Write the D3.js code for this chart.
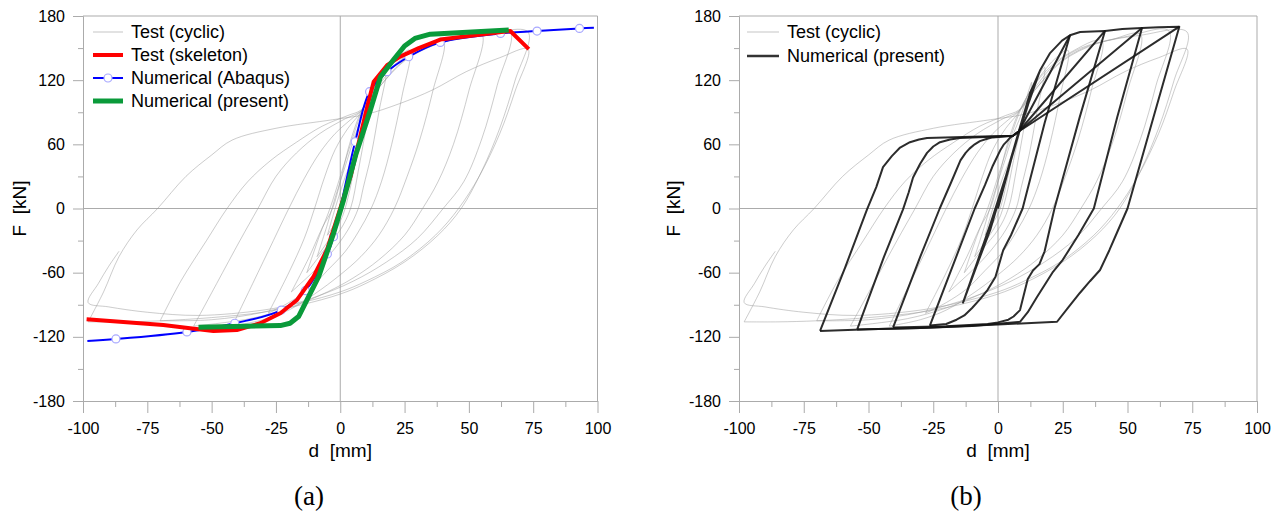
<!DOCTYPE html>
<html><head><meta charset="utf-8">
<script src="https://cdn.jsdelivr.net/npm/d3@7"></script>
<style>
body{margin:0;background:#fff}
svg{display:block}
text{font-family:"Liberation Sans",Arial,Helvetica,sans-serif;fill:#000}
</style>
</head><body>
<svg id="c" width="1279" height="513"></svg>
<script>
// ---------- axis ticks ----------
const xTicks = [-100,-75,-50,-25,0,25,50,75,100];
const xMinor = [-87.5,-62.5,-37.5,-12.5,12.5,37.5,62.5,87.5];
const yTicks = [-180,-120,-60,0,60,120,180];
const yMinor = [-150,-90,-30,30,90,150];

// ---------- Test (cyclic): hand-read loops [d mm, F kN] ----------
const testC1 = [[0,0],[2.5,25],[5,45],[2,10],[0,-5],[-5,-25]];
const testC2 = [[-5,-25],[-2,0],[2,30],[6,55],[9,80],[6,45],[3,10],[0,-12],[-9,-45]];
const testC3 = [[-9,-45],[-5,-15],[-2,10],[2,40],[6,70],[9,88],[13,118],[10,75],[7,35],[4,0],[0,-20],[-6,-38],[-13,-60]];
const testC4 = [[-13,-60],[-8,-25],[-4,0],[0,30],[4,60],[8,88],[12,108],[18,132],[15,90],[12,50],[9,20],[7,0],[3,-20],[-3,-40],[-10,-58],[-19,-78]];
const testC5 = [[-19,-78],[-12,-45],[-7,-18],[-3,0],[0,25],[3,55],[6,78],[8,90],[12,108],[17,126],[22,140],[27,148],[24,105],[20,60],[16,25],[12,0],[7,-22],[2,-40],[-5,-58],[-12,-75],[-20,-88],[-28,-98]];
const testC6 = [[-28,-98],[-20,-60],[-14,-28],[-10,0],[-6,30],[-2,55],[3,75],[8,90],[13,112],[20,132],[28,146],[40,157],[36,110],[31,65],[26,30],[21,0],[15,-25],[8,-45],[0,-62],[-10,-80],[-20,-95],[-30,-104],[-42,-110]];
const testC7 = [[-42,-110],[-34,-70],[-26,-30],[-20,0],[-14,28],[-8,52],[-2,70],[4,83],[8,91],[14,112],[22,135],[32,150],[44,158],[55,163],[50,110],[44,60],[38,25],[32,0],[25,-25],[15,-48],[5,-65],[-5,-78],[-20,-93],[-35,-103],[-57,-110]];
const testC8 = [[-57,-110],[-48,-70],[-39,-30],[-32,0],[-25,30],[-17,52],[-8,70],[2,84],[8,91],[15,113],[24,137],[35,152],[50,161],[66,166],[61,115],[55,65],[48,25],[40,0],[30,-28],[18,-50],[5,-68],[-10,-83],[-30,-97],[-50,-104],[-70,-105]];
const testC9 = [[-70,-105],[-62,-68],[-52,-30],[-44,0],[-36,25],[-27,45],[-17,62],[-7,77],[3,87],[8,92],[15,113],[25,138],[38,154],[55,162],[73,165],[68,120],[62,75],[55,35],[47,0],[38,-25],[25,-50],[10,-70],[0,-80],[-15,-90],[-30,-97],[-50,-102],[-70,-105],[-85,-106],[-98,-106]];
const testC10 = [[-98,-106],[-92,-78],[-86,-45],[-79,-20],[-71,0],[-60,30],[-50,50],[-42,64],[-25,75],[-3,83],[10,88],[23,98],[36,111],[49,128],[62,141],[73,149],[68,110],[62,70],[54,30],[46,0],[37,-25],[24,-50],[10,-68],[0,-78],[-15,-88],[-30,-95],[-55,-100],[-75,-97],[-90,-92],[-98,-88],[-94,-70],[-90,-54],[-86,-40]];
const testCycles = [testC1,testC2,testC3,testC4,testC5,testC6,testC7,testC8,testC9,testC10];

// ---------- skeleton curves (panel a) ----------
const testSkeleton = [[-98.6,-103.6],[-68.8,-108.9],[-58.4,-112],[-49.3,-114.5],[-40.2,-113.6],[-31.1,-107.3],[-23.3,-98],[-16.8,-85.5],[-10.4,-63.7],[-5.2,-38.8],[-0.6,-4.5],[4,30],[8,70],[11,100],[13,118.5],[18.2,134],[23.3,142],[30.5,150],[38.9,158],[66.1,166],[73.3,149]];
const abaqusSkeleton = [[-98.3,-123.8],[-87.2,-122],[-59.6,-115.4],[-41,-107.3],[-22.9,-95],[-13.6,-76.8],[-5,-42.5],[-2.6,-26.3],[5.8,62.4],[11.4,109.2],[18.2,127.9],[26.6,141.9],[38.9,155.3],[62.3,163.7],[76.5,165.9],[93,168.4],[98.6,169]];
const presentSkeleton = [[-55.1,-111],[-23.3,-109.5],[-19.5,-107.3],[-16.2,-101],[-8.4,-63.7],[-2.6,-23.2],[1.3,8],[6,50],[11.7,92],[15.6,123],[20.7,139],[25,152],[29,159],[35,163],[65.5,166.8]];

// ---------- Numerical (present) cyclic (panel b) ----------
const presC0 = [[0,0],[5,45],[8,72],[12.4,108],[8,70],[3,30],[-3,-20],[-8,-52],[-13.5,-88],[-8,-50],[-3,-15],[1,15],[5,45],[8,72],[12.4,108],[16.2,129],[12,100],[8,70],[2,20],[-4,-25],[-9,-58],[-13.5,-88],[-8,-52],[-2,-12],[3,30],[8,72],[12.4,108],[16.2,129],[20,145],[24.7,157],[27.8,162]];
const presC1 = [[27.8,162],[18,80],[9.5,0],[5,-25],[2,-39],[-1,-64],[-4,-76],[-7,-85],[-10,-93],[-13,-100],[-16,-104],[-20,-108],[-26.3,-109.5]];
const presC2 = [[-26.3,-109.5],[-15,-38],[-9,0],[-5,22],[-2,40],[1,55],[2.3,60],[3.5,63],[4.6,66],[5.8,68],[8,72],[27.8,162],[31.7,165],[41.3,166],[31.5,85],[21.8,0],[18,-40],[16,-52],[13.5,-58],[11.5,-66],[8.5,-95],[6,-101],[4,-104],[0,-106.5],[-4,-108],[-20,-110],[-40.5,-111.2]];
const presC3 = [[-40.5,-111.2],[-30,-45],[-22.5,0],[-18,25],[-14.5,45],[-12.5,52],[-11,56],[-9,60],[-7,63],[-4.5,65],[-2,66.5],[5.8,68],[8,72],[41.3,166],[48,167.8],[55.6,168.7],[46,85],[37,0],[31,-25],[25,-48],[21,-60],[15,-83],[11.5,-97],[8.5,-106],[-10,-109.8],[-30,-111.8],[-54.4,-113.2]];
const presC4 = [[-54.4,-113.2],[-44,-45],[-36.7,-1],[-34.5,15],[-32.8,29],[-30,42],[-27.4,52],[-25,58],[-22.4,62],[-18.5,64.5],[-14.7,66],[0,67.3],[5.8,68],[8,72],[55.6,168.7],[62,169.4],[70,170],[60,85],[50,0],[45.5,-25],[43,-39],[39.4,-57.5],[35.5,-68],[31.6,-79],[27,-93],[22.8,-105.9],[0,-108.5],[-30,-111.8],[-50,-113],[-68.7,-114.5]];
const presC5 = [[-68.7,-114.5],[-59,-55],[-50.6,-1],[-47,20],[-44.4,38.7],[-41,49],[-37.8,57],[-34,62],[-30.5,64.5],[-27.4,66],[-10,67.2],[5.8,68],[8,72],[70,170]];
const presentCycles = [presC0,presC1,presC2,presC3,presC4,presC5];

// ---------- labels ----------
const legendA = ["Test (cyclic)","Test (skeleton)","Numerical (Abaqus)","Numerical (present)"];
const legendB = ["Test (cyclic)","Numerical (present)"];
const xTitle = "d  [mm]";
const yTitle = "F  [kN]";
const panelTags = ["(a)","(b)"];

// ---------- drawing ----------
const svg = d3.select("#c");
const GRID = "#ababab";

function makePanel(left, right, key) {
  const x = d3.scaleLinear().domain([-100,100]).range([left,right]);
  const y = d3.scaleLinear().domain([-180,180]).range([401,16]);
  const g = svg.append("g");
  const clipId = "clip"+key;
  svg.append("clipPath").attr("id",clipId).append("rect")
    .attr("x",left).attr("y",16).attr("width",right-left).attr("height",385);

  g.append("line").attr("x1",left).attr("x2",right).attr("y1",y(180)).attr("y2",y(180)).attr("stroke",GRID);
  g.append("line").attr("x1",right).attr("x2",right).attr("y1",y(180)).attr("y2",y(-180)).attr("stroke",GRID);
  g.append("line").attr("x1",left).attr("x2",right).attr("y1",y(0)).attr("y2",y(0)).attr("stroke",GRID);
  g.append("line").attr("x1",x(0)).attr("x2",x(0)).attr("y1",y(180)).attr("y2",y(-180)).attr("stroke",GRID);

  const ax = g.append("g").attr("transform",`translate(0,${y(-180)})`)
    .call(d3.axisBottom(x).tickValues(xTicks).tickSize(12).tickSizeOuter(0).tickPadding(10).tickFormat(d3.format("d")));
  const axm = g.append("g").attr("transform",`translate(0,${y(-180)})`)
    .call(d3.axisBottom(x).tickValues(xMinor).tickSize(6).tickSizeOuter(0).tickFormat(""));
  const ay = g.append("g").attr("transform",`translate(${x(-100)},0)`)
    .call(d3.axisLeft(y).tickValues(yTicks).tickSize(10).tickSizeOuter(0).tickPadding(8).tickFormat(d3.format("d")));
  const aym = g.append("g").attr("transform",`translate(${x(-100)},0)`)
    .call(d3.axisLeft(y).tickValues(yMinor).tickSize(5).tickSizeOuter(0).tickFormat(""));
  [ax,axm,ay,aym].forEach(a=>{
    a.selectAll("path,line").attr("stroke",GRID);
    a.selectAll("text").attr("font-family","Liberation Sans, Arial, sans-serif").attr("font-size",16).attr("fill","#000");
    a.select(".domain").attr("stroke",GRID);
  });
  ax.selectAll("text").text(d=>String(d));
  ay.selectAll("text").text(d=>String(d));

  g.append("text").attr("x",x(0)).attr("y",457).attr("text-anchor","middle")
    .attr("font-size",19).style("white-space","pre").text(xTitle);
  const yt = key==="a" ? 26 : 680;
  g.append("text").attr("transform",`translate(${yt},${y(0)}) rotate(-90)`).attr("text-anchor","middle")
    .attr("font-size",19).style("white-space","pre").text(yTitle);

  const plot = g.append("g").attr("clip-path",`url(#${clipId})`);
  return {x,y,g,plot};
}

function lineGen(p, curve) {
  return d3.line().x(d=>p.x(d[0])).y(d=>p.y(d[1])).curve(curve || d3.curveLinear);
}

function drawTest(p) {
  const lg = lineGen(p, d3.curveCatmullRom.alpha(0.5));
  p.plot.selectAll(".test").data(testCycles).join("path").attr("class","test")
    .attr("d",lg).attr("fill","none").attr("stroke","#9a9a9a").attr("stroke-opacity",0.5)
    .attr("stroke-width",1);
}

// Panel (a)
const pa = makePanel(83, 597.5, "a");
drawTest(pa);
pa.plot.append("path").datum(abaqusSkeleton).attr("d",lineGen(pa,d3.curveCatmullRom.alpha(0.5)))
  .attr("fill","none").attr("stroke","#0000ff").attr("stroke-width",2);
pa.plot.selectAll(".mk").data(abaqusSkeleton.slice(1,-1)).join("circle").attr("class","mk")
  .attr("cx",d=>pa.x(d[0])).attr("cy",d=>pa.y(d[1])).attr("r",4)
  .attr("fill","#fff").attr("stroke","#a8a8ff").attr("stroke-width",1.2);
pa.plot.append("path").datum(testSkeleton).attr("d",lineGen(pa))
  .attr("fill","none").attr("stroke","#ff0000").attr("stroke-width",4).attr("stroke-linejoin","round");
pa.plot.append("path").datum(presentSkeleton).attr("d",lineGen(pa))
  .attr("fill","none").attr("stroke","#0a9a3a").attr("stroke-width",5).attr("stroke-linejoin","round");

// legend (a)
const legA = svg.append("g");
const rowsA = [32,55,78,101];
legA.append("line").attr("x1",93).attr("x2",123).attr("y1",rowsA[0]).attr("y2",rowsA[0]).attr("stroke","#cfcfcf").attr("stroke-width",1.2);
legA.append("line").attr("x1",93).attr("x2",123).attr("y1",rowsA[1]).attr("y2",rowsA[1]).attr("stroke","#ff0000").attr("stroke-width",4);
legA.append("line").attr("x1",93).attr("x2",123).attr("y1",rowsA[2]).attr("y2",rowsA[2]).attr("stroke","#0000ff").attr("stroke-width",2);
legA.append("circle").attr("cx",108).attr("cy",rowsA[2]).attr("r",4).attr("fill","#fff").attr("stroke","#a8a8ff").attr("stroke-width",1.2);
legA.append("line").attr("x1",93).attr("x2",123).attr("y1",rowsA[3]).attr("y2",rowsA[3]).attr("stroke","#0a9a3a").attr("stroke-width",5);
legA.selectAll("text").data(legendA).join("text").attr("x",131).attr("y",(d,i)=>rowsA[i]).attr("dy","0.35em")
  .attr("font-size",18).text(d=>d);

// Panel (b)
const pb = makePanel(739, 1257, "b");
drawTest(pb);
pb.plot.selectAll(".pres").data(presentCycles).join("path").attr("class","pres")
  .attr("d",lineGen(pb)).attr("fill","none").attr("stroke","#151515").attr("stroke-width",2)
  .attr("stroke-linejoin","round").attr("stroke-opacity",0.9);

const legB = svg.append("g");
const rowsB = [32,56];
legB.append("line").attr("x1",747).attr("x2",779).attr("y1",rowsB[0]).attr("y2",rowsB[0]).attr("stroke","#cfcfcf").attr("stroke-width",1.2);
legB.append("line").attr("x1",747).attr("x2",779).attr("y1",rowsB[1]).attr("y2",rowsB[1]).attr("stroke","#333").attr("stroke-width",2.5);
legB.selectAll("text").data(legendB).join("text").attr("x",787).attr("y",(d,i)=>rowsB[i]).attr("dy","0.35em")
  .attr("font-size",18).text(d=>d);

// panel tags
svg.selectAll(".tag").data(panelTags).join("text").attr("class","tag")
  .attr("x",(d,i)=>i===0?309:966).attr("y",505).attr("text-anchor","middle")
  .style("font-family","'Liberation Serif','Times New Roman',serif")
  .attr("font-size",27).text(d=>d);
</script>
</body></html>
